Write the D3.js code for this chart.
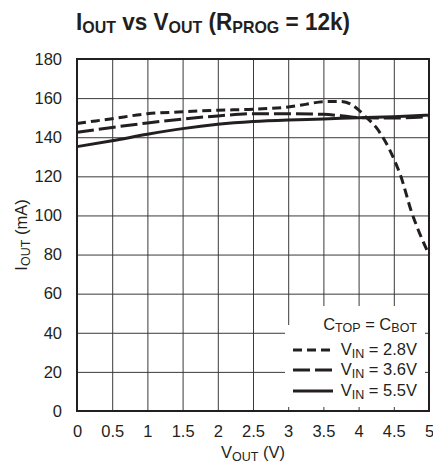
<!DOCTYPE html>
<html lang="en">
<head>
  <meta charset="UTF-8" />
  <title>IOUT vs VOUT</title>
  <script src="https://d3js.org/d3.v7.min.js"></script>
  <style>
    html, body {
      margin: 0;
      padding: 0;
      background: #fff;
    }
    svg {
      display: block;
      font-family: "Liberation Sans", Arial, sans-serif;
    }
    .tick text {
      font-size: 16.5px;
      fill: #231f20;
    }
  </style>
</head>
<body>
  <svg id="chart" width="433" height="466"></svg>

  <script>
    // axis ticks
    const xTicks = [0, 0.5, 1, 1.5, 2, 2.5, 3, 3.5, 4, 4.5, 5];
    const yTicks = [0, 20, 40, 60, 80, 100, 120, 140, 160, 180];

    // VIN = 2.8V (short dashes)
    const vout28 = [0, 0.5, 1, 1.5, 2, 2.5, 3, 3.25, 3.5, 3.75, 3.9, 4, 4.1, 4.25, 4.5, 4.6, 4.75, 4.9, 5];
    const iout28 = [147, 149.5, 152, 153, 153.8, 154.3, 155.5, 156.8, 158.2, 158.3, 156.7, 154, 150.5, 145, 129, 120, 102, 88, 80];

    // VIN = 3.6V (long dashes)
    const vout36 = [0, 0.5, 1, 1.5, 2, 2.5, 3, 3.5, 3.75, 4, 4.5, 5];
    const iout36 = [142.5, 145, 147.3, 149.3, 150.9, 152, 152, 151.7, 151, 150, 149.8, 150.6];

    // VIN = 5.5V (solid)
    const vout55 = [0, 0.5, 1, 1.5, 2, 2.5, 3, 3.5, 4, 4.5, 5];
    const iout55 = [135.2, 138.2, 141.5, 144.4, 146.6, 148, 148.8, 149.3, 150, 150.5, 151.3];

    const series = [
      { label: "2.8V", x: vout28, y: iout28, dash: "9,5" },
      { label: "3.6V", x: vout36, y: iout36, dash: "17,5" },
      { label: "5.5V", x: vout55, y: iout55, dash: null }
    ];

    const margin = { top: 59, left: 77 };
    const width = 352, height = 352;
    const ink = "#231f20";

    const svg = d3.select("#chart");

    const x = d3.scaleLinear().domain([0, 5]).range([0, width]);
    const y = d3.scaleLinear().domain([0, 180]).range([height, 0]);

    // Title
    const title = svg.append("text")
      .attr("x", 76)
      .attr("y", 30)
      .attr("font-weight", "bold")
      .attr("font-size", "24px")
      .attr("fill", ink)
      .attr("textLength", 274)
      .attr("lengthAdjust", "spacingAndGlyphs");
    title.append("tspan").text("I");
    title.append("tspan").attr("font-size", "17px").attr("dy", 3).text("OUT");
    title.append("tspan").attr("dy", -3).text(" vs V");
    title.append("tspan").attr("font-size", "17px").attr("dy", 3).text("OUT");
    title.append("tspan").attr("dy", -3).text(" (R");
    title.append("tspan").attr("font-size", "17px").attr("dy", 3).text("PROG");
    title.append("tspan").attr("dy", -3).text(" = 12k)");

    const g = svg.append("g")
      .attr("transform", `translate(${margin.left},${margin.top})`);

    // grid + tick labels
    const xAxis = g.append("g")
      .attr("transform", `translate(0,${height})`)
      .call(d3.axisBottom(x).tickValues(xTicks).tickSize(-height).tickPadding(14)
        .tickFormat(d3.format("")));
    const yAxis = g.append("g")
      .call(d3.axisLeft(y).tickValues(yTicks).tickSize(-width).tickPadding(15));

    [xAxis, yAxis].forEach(a => {
      a.select(".domain").remove();
      a.selectAll(".tick line").attr("stroke", "#3a3a3a").attr("stroke-width", 1);
    });

    // legend background hides the grid
    g.append("rect")
      .attr("x", 291 - margin.left).attr("y", 306 - margin.top)
      .attr("width", 134).attr("height", 101)
      .attr("fill", "#fff");
    g.append("rect")
      .attr("x", 285 - margin.left).attr("y", 325 - margin.top)
      .attr("width", 10).attr("height", 82)
      .attr("fill", "#fff");

    // frame
    g.append("rect")
      .attr("width", width).attr("height", height)
      .attr("fill", "none")
      .attr("stroke", ink)
      .attr("stroke-width", 2);

    // curves
    const line = d3.line()
      .x(d => x(d[0]))
      .y(d => y(d[1]))
      .curve(d3.curveMonotoneX);

    series.forEach(s => {
      g.append("path")
        .datum(s.x.map((v, i) => [v, s.y[i]]))
        .attr("d", line)
        .attr("fill", "none")
        .attr("stroke", ink)
        .attr("stroke-width", 3)
        .attr("stroke-dasharray", s.dash);
    });

    // legend
    const leg = svg.append("g").attr("fill", ink).attr("font-size", "16.5px");
    const head = leg.append("text")
      .attr("x", 417).attr("y", 330)
      .attr("text-anchor", "end");
    head.append("tspan").text("C");
    head.append("tspan").attr("font-size", "12.5px").attr("dy", 2).text("TOP");
    head.append("tspan").attr("dy", -2).text(" = C");
    head.append("tspan").attr("font-size", "12.5px").attr("dy", 2).text("BOT");

    const rowY = [355, 375, 396];
    series.forEach((s, i) => {
      leg.append("line")
        .attr("x1", 293).attr("x2", 333)
        .attr("y1", rowY[i] - 5).attr("y2", rowY[i] - 5)
        .attr("stroke", ink)
        .attr("stroke-width", 3)
        .attr("stroke-dasharray", s.dash);
      const t = leg.append("text")
        .attr("x", 417).attr("y", rowY[i])
        .attr("text-anchor", "end");
      t.append("tspan").text("V");
      t.append("tspan").attr("font-size", "12.5px").attr("dy", 3).text("IN");
      t.append("tspan").attr("dy", -3).text(" = " + s.label);
    });

    // axis titles
    const xt = svg.append("text")
      .attr("x", margin.left + width / 2).attr("y", 458)
      .attr("text-anchor", "middle")
      .attr("font-size", "16.5px")
      .attr("fill", ink);
    xt.append("tspan").text("V");
    xt.append("tspan").attr("font-size", "12.5px").attr("dy", 2.5).text("OUT");
    xt.append("tspan").attr("dy", -2.5).text(" (V)");

    const yt = svg.append("text")
      .attr("transform", `translate(27,${margin.top + height / 2}) rotate(-90)`)
      .attr("text-anchor", "middle")
      .attr("font-size", "16.5px")
      .attr("fill", ink);
    yt.append("tspan").text("I");
    yt.append("tspan").attr("font-size", "12.5px").attr("dy", 3).text("OUT");
    yt.append("tspan").attr("dy", -3).text(" (mA)");
  </script>
</body>
</html>
